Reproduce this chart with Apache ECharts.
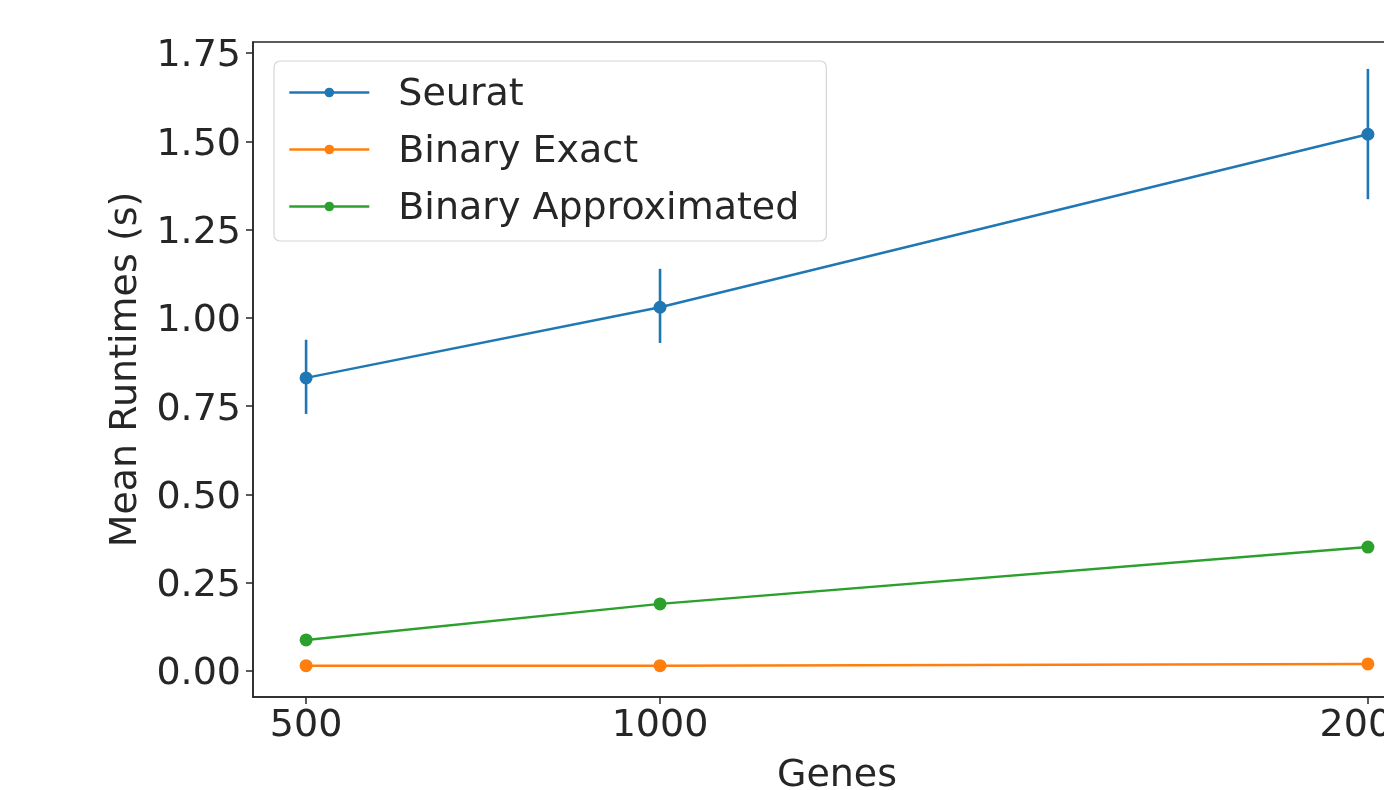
<!DOCTYPE html>
<html>
<head>
<meta charset="utf-8">
<script src="https://cdn.jsdelivr.net/npm/echarts@6/dist/echarts.min.js"></script>
<style>
  html, body { margin: 0; padding: 0; background: #fff; }
  #chart { width: 1384px; height: 790px; }
</style>
</head>
<body>
<div id="chart"></div>
<script>
// Gene counts on the x axis
const genes = [500, 1000, 2000];

// Mean runtimes in seconds per method
const seuratMean = [0.83, 1.03, 1.52];
const seuratLow = [0.728, 0.929, 1.336];
const seuratHigh = [0.938, 1.139, 1.705];
const binaryExact = [0.015, 0.015, 0.02];
const binaryApprox = [0.088, 0.19, 0.351];

// Tick labels
const xTicks = [500, 1000, 2000];
const yTicks = [0, 0.25, 0.5, 0.75, 1.0, 1.25, 1.5, 1.75];

const FONT = 'DejaVu Sans';
const TEXT = '#262626';
const BLUE = '#1f77b4', ORANGE = '#ff7f0e', GREEN = '#2ca02c';

const pairs = (ys) => genes.map((g, i) => [g, ys[i]]);
const errData = genes.map((g, i) => [g, seuratLow[i], seuratHigh[i]]);

const lineSeries = (name, ys, color) => ({
  name, type: 'line', data: pairs(ys),
  symbol: 'circle', symbolSize: 13,
  itemStyle: { color },
  lineStyle: { color, width: 2.4 },
  emphasis: { disabled: true },
  z: 3
});

// text nudged a few pixels down so digits sit centred on their ticks
const shifted = { fontFamily: FONT, fontSize: 38, color: TEXT, lineHeight: 40, padding: [7, 0, 0, 0] };

const chart = echarts.init(document.getElementById('chart'), null, { renderer: 'canvas' });
chart.setOption({
  animation: false,
  backgroundColor: '#fff',
  textStyle: { fontFamily: FONT },
  grid: {
    left: 253, top: 42, bottom: 93, width: 1168,
    containLabel: false, outerBoundsMode: 'none',
    show: true, borderColor: '#262626', borderWidth: 1.5, backgroundColor: 'transparent'
  },
  legend: {
    orient: 'vertical', left: 274, top: 61,
    padding: [10, 27, 13, 14],
    itemWidth: 80, itemHeight: 12, itemGap: 14,
    borderColor: '#d6d6d6', borderWidth: 1.2, borderRadius: 6,
    backgroundColor: 'rgba(255,255,255,0.85)',
    lineStyle: { width: 2.6 },
    formatter: (name) => '{t|' + name + '}',
    textStyle: {
      fontFamily: FONT, fontSize: 38, color: TEXT, padding: [0, 0, 0, 24],
      rich: { t: { fontFamily: FONT, fontSize: 38, color: TEXT, lineHeight: 40, padding: [5, 0, 0, 0] } }
    },
    data: ['Seurat', 'Binary Exact', 'Binary Approximated']
  },
  xAxis: {
    type: 'value', min: 425, max: 2075,
    name: 'Genes', nameLocation: 'middle', nameGap: 60,
    nameTextStyle: { fontFamily: FONT, fontSize: 38, color: TEXT },
    axisLine: { show: true, onZero: false, lineStyle: { color: '#262626', width: 1.5 } },
    axisTick: { show: true, length: 7, customValues: xTicks, lineStyle: { color: '#262626', width: 1.5 } },
    axisLabel: {
      customValues: xTicks, fontFamily: FONT, fontSize: 38, color: TEXT, margin: 10,
      formatter: (v) => String(v)
    },
    splitLine: { show: false }
  },
  yAxis: {
    type: 'value', min: -0.0736, max: 1.7812,
    name: 'Mean Runtimes (s)', nameLocation: 'middle', nameGap: 108, nameRotate: 90,
    nameTextStyle: { fontFamily: FONT, fontSize: 38, color: TEXT },
    axisLine: { show: true, onZero: false, lineStyle: { color: '#262626', width: 1.5 } },
    axisTick: { show: true, length: 7, customValues: yTicks, lineStyle: { color: '#262626', width: 1.5 } },
    axisLabel: {
      customValues: yTicks, fontFamily: FONT, fontSize: 38, color: TEXT, margin: 12,
      formatter: (v) => '{n|' + v.toFixed(2) + '}',
      rich: { n: shifted }
    },
    splitLine: { show: false }
  },
  series: [
    lineSeries('Seurat', seuratMean, BLUE),
    lineSeries('Binary Exact', binaryExact, ORANGE),
    lineSeries('Binary Approximated', binaryApprox, GREEN),
    {
      name: 'Seurat', type: 'custom', data: errData, z: 2,
      encode: { x: 0, y: [1, 2] },
      renderItem: (params, api) => {
        const lo = api.coord([api.value(0), api.value(1)]);
        const hi = api.coord([api.value(0), api.value(2)]);
        return {
          type: 'line',
          shape: { x1: lo[0], y1: lo[1], x2: hi[0], y2: hi[1] },
          style: { stroke: BLUE, lineWidth: 2.6 }
        };
      }
    }
  ]
});
</script>
</body>
</html>
